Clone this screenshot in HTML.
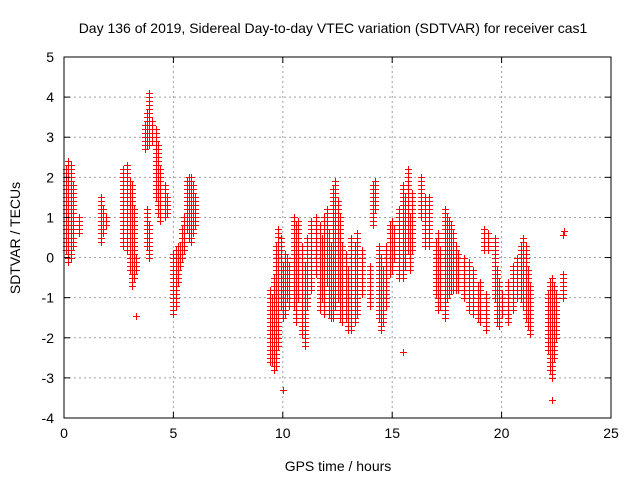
<!DOCTYPE html>
<html><head><meta charset="utf-8"><style>
body{margin:0;background:#fff;}
svg{display:block;font-family:"Liberation Sans",sans-serif;}
#marks rect{fill:#ff0000 !important;stroke:none;}
</style></head><body>
<svg id="chart" width="640" height="480">
<rect width="640" height="480" fill="#fff"/>
<text x="333" y="33" font-size="14" text-anchor="middle">Day 136 of 2019, Sidereal Day-to-day VTEC variation (SDTVAR) for receiver cas1</text>
<text x="338" y="471" font-size="14" text-anchor="middle">GPS time / hours</text>
<text transform="translate(20,238) rotate(-90)" font-size="14" text-anchor="middle">SDTVAR / TECUs</text>
<g id="grid"></g>
<g id="marks" style="fill:#ff0000"></g>
<rect x="64" y="57" width="547" height="361" fill="none" stroke="#000" stroke-width="1"/>
<g id="axes"></g>
</svg>
<script>
const xTicks=[0,5,10,15,20,25];
const yTicks=[-4,-3,-2,-1,0,1,2,3,4,5];
// track samples: time (hours), low and high SDTVAR values
const trackTime=[0.1,0.2,0.3,0.4,0.7,1.7,1.8,1.9,2.7,2.9,3.0,3.1,3.2,3.3,3.7,3.8,3.9,4.0,3.8,3.9,4.2,4.3,4.4,4.6,4.7,5.0,5.1,5.2,5.3,5.4,5.5,5.6,5.7,5.8,5.9,6.0,
9.4,9.5,9.6,9.7,9.8,9.9,10.0,10.1,10.2,10.3,10.5,10.6,10.7,10.9,11.0,11.1,11.3,11.5,11.7,11.8,11.9,12.0,12.1,12.2,12.3,12.4,12.5,12.6,12.7,12.9,13.0,13.1,13.3,13.4,13.6,14.0,14.1,14.2,14.4,14.5,14.6,14.7,14.9,15.0,15.1,15.3,15.5,15.6,15.7,15.8,15.9,16.3,16.5,16.7,
17.0,17.1,17.2,17.4,17.5,17.6,17.7,17.8,17.9,18.0,18.3,18.5,18.7,18.9,19.0,19.3,19.2,19.4,19.7,19.8,19.9,20.0,20.3,20.5,20.7,20.9,21.0,21.1,21.2,21.3,22.1,22.2,22.3,22.4,22.5,22.8];
const trackLow=[0.2,-0.1,0.0,0.3,0.6,0.4,0.6,0.8,0.3,0.2,-0.3,-0.7,-0.5,-0.3,2.7,2.8,2.8,2.9,0.3,0.0,1.5,1.1,0.9,1.0,1.1,-1.4,-1.2,-0.6,-0.2,0.0,0.2,0.7,0.5,0.4,0.6,0.8,
-2.6,-2.6,-2.8,-2.7,-2.2,-1.2,-1.5,-1.4,-1.0,-1.2,-1.2,-1.6,-1.0,-1.9,-2.2,-1.2,-0.8,-0.4,-1.3,-1.0,-1.4,-0.6,-1.4,-1.5,-1.5,-1.2,-1.0,-1.5,-1.6,-1.5,-1.8,-1.8,-1.6,-1.4,-0.9,-1.2,0.8,1.2,-1.5,-1.8,-1.6,-1.2,-0.4,-0.3,0.0,-0.5,-0.5,-0.2,0.2,-0.3,0.2,1.0,0.3,0.3,
-0.9,-1.3,-1.2,-1.5,-1.0,-0.9,-0.8,-0.8,-0.8,-0.8,-1.0,-1.3,-1.4,-1.5,-1.6,-1.8,0.2,0.2,-1.0,-1.6,-1.7,-1.4,-1.6,-1.3,-1.0,-1.0,-1.2,-1.5,-1.7,-1.9,-2.3,-2.8,-3.0,-2.5,-2.0,-1.0];
const trackHigh=[2.2,2.4,2.3,1.8,1.0,1.5,1.2,1.0,2.2,2.3,1.9,1.8,1.2,0.0,3.3,3.6,4.1,3.4,1.2,0.8,3.2,2.8,2.2,1.8,1.5,0.1,0.2,0.3,0.3,0.7,1.0,1.9,2.0,2.0,1.8,1.5,
-0.8,-1.0,-0.5,0.3,0.7,0.5,-0.2,0.1,0.0,-0.2,1.0,0.8,0.9,0.3,-0.2,0.5,0.9,1.0,0.8,0.5,1.0,1.2,0.6,0.3,1.7,1.9,1.4,1.0,0.3,0.1,-0.3,0.5,0.3,0.6,0.2,-0.2,1.8,1.9,0.3,0.0,-0.3,0.3,0.8,0.9,0.7,1.2,1.8,1.5,2.2,1.0,1.6,2.0,1.5,1.5,
0.4,0.6,0.2,1.2,1.0,0.9,0.8,0.6,0.3,0.1,0.0,-0.1,-0.3,-0.7,-0.6,-0.9,0.7,0.6,0.5,-0.3,-0.6,-0.9,-0.6,-0.2,0.0,0.3,0.5,0.3,-0.3,-0.7,-0.9,-0.6,-0.5,-0.7,-0.9,-0.4];
// isolated points
const outlierTime=[3.3,10.0,15.5,22.3,22.8,22.85];
const outlierValue=[-1.45,-3.3,-2.35,-3.55,0.55,0.65];

const NS='http://www.w3.org/2000/svg';
const X0=64,X1=611,Y0=418,Y1=57;
function xs(t){return X0+(t-0)/(25-0)*(X1-X0);}
function ys(v){return Y0-(v-(-4))/(5-(-4))*(Y0-Y1);}
function mk(tag,attrs,parent){const e=document.createElementNS(NS,tag);for(const k in attrs)e.setAttribute(k,attrs[k]);parent.appendChild(e);return e;}
const grid=document.getElementById('grid'),axes=document.getElementById('axes'),marks=document.getElementById('marks');
xTicks.forEach(t=>{
  const x=xs(t);
  if(t>0&&t<25){const g=mk('line',{x1:x,y1:Y0,x2:x,y2:Y1,stroke:'#a0a0a0','stroke-dasharray':'2,3'},grid);
  
  }
  mk('line',{x1:x,y1:Y0,x2:x,y2:Y0-6,stroke:'#000'},axes);
  mk('line',{x1:x,y1:Y1,x2:x,y2:Y1+6,stroke:'#000'},axes);
  const l=mk('text',{x:x,y:Y0+20,'font-size':14,'text-anchor':'middle'},axes);l.textContent=t;
  
  
});
yTicks.forEach(v=>{
  const y=ys(v);
  if(v>-4&&v<5){const g=mk('line',{x1:X0,y1:y,x2:X1,y2:y,stroke:'#a0a0a0','stroke-dasharray':'2,3'},grid);
  
  }
  mk('line',{x1:X0,y1:y,x2:X0+6,y2:y,stroke:'#000'},axes);
  mk('line',{x1:X1,y1:y,x2:X1-6,y2:y,stroke:'#000'},axes);
  const l=mk('text',{x:X0-10,y:y+5,'font-size':14,'text-anchor':'end'},axes);l.textContent=v;
  
  
});
function cross(t,v,parent){
  const x=Math.round(xs(t)),y=Math.round(ys(v));
  mk('rect',{x:x-3,y:y,width:7,height:1,style:'fill:#ff0000'},parent);
  mk('rect',{x:x,y:y-3,width:1,height:7,style:'fill:#ff0000'},parent);
}
for(let i=0;i<trackTime.length;i++){
  const lo=trackLow[i],hi=trackHigh[i];
  const g=mk('g',{style:'fill:#ff0000'},marks);
  
  
  for(let v=lo;v<=hi+1e-6;v+=0.1)cross(trackTime[i],v,g);
  cross(trackTime[i],hi,g);
}
for(let i=0;i<outlierTime.length;i++){
  const g=mk('g',{style:'fill:#ff0000'},marks);
  
  
  cross(outlierTime[i],outlierValue[i],g);
}
</script>
</body></html>
